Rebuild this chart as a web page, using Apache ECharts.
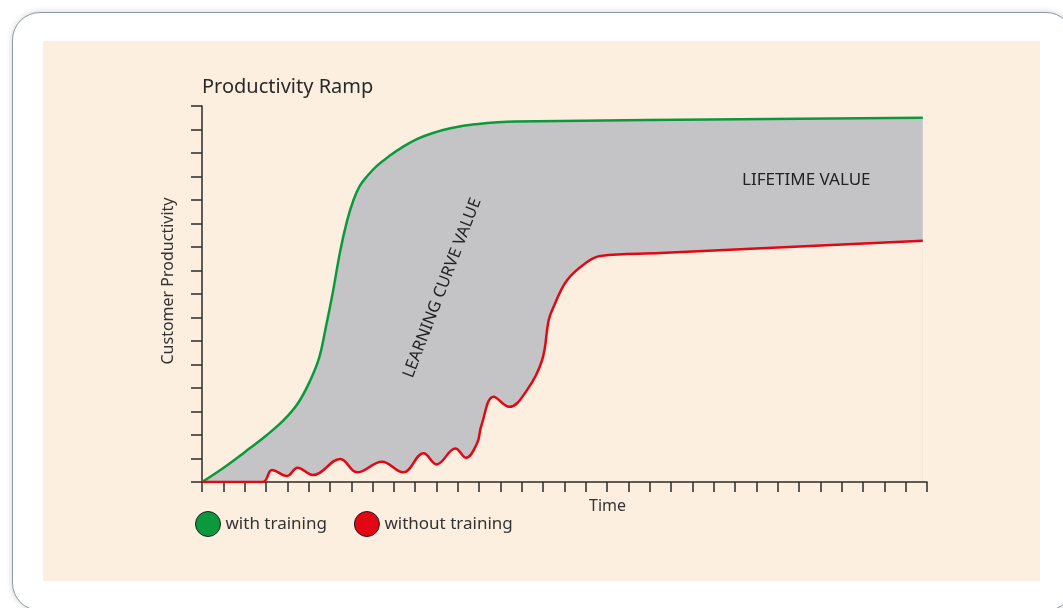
<!DOCTYPE html>
<html>
<head>
<meta charset="utf-8">
<script src="https://cdn.jsdelivr.net/npm/echarts@6/dist/echarts.min.js"></script>
<style>
  html, body { margin: 0; padding: 0; background: #ffffff; overflow: hidden; }
  #frame {
    position: absolute; left: 12px; top: 12px; width: 1060px; height: 597px;
    border: 1.5px solid #8b9aa5; border-radius: 28px; background: #fff;
    box-shadow: 0 0 6px rgba(0,0,0,0.18);
  }
  #panel { position: absolute; left: 43px; top: 41px; width: 997px; height: 540px; background: #fcefdf; }
  #chart { position: absolute; left: 0; top: 0; width: 1063px; height: 608px; }
</style>
</head>
<body>
<div id="frame"></div>
<div id="panel"></div>
<div id="chart"></div>
<script>
// axis extents (tick count only, no labels shown)
const xMax = 34;
const yMax = 16;

// [time, productivity]
const withTraining = [
  [0, 0], [1, 0.6], [2, 1.27], [3, 1.97], [3.83, 2.63], [4.5, 3.35], [5.08, 4.33],
  [5.5, 5.3], [5.78, 6.46], [6.1, 7.9], [6.49, 9.86], [6.8, 11.1], [7.1, 11.99],
  [7.4, 12.6], [7.75, 13.02], [8.2, 13.45], [8.83, 13.9], [9.4, 14.25], [10.1, 14.6],
  [10.8, 14.84], [11.65, 15.05], [12.8, 15.22], [14.7, 15.34], [33.8, 15.5]
];
const withoutTraining = [
  [0, 0], [2.85, 0], [3.28, 0.51], [3.99, 0.26], [4.48, 0.61], [5.2, 0.3],
  [6.49, 0.98], [7.27, 0.41], [8.44, 0.86], [9.43, 0.41], [10.39, 1.22],
  [11.0, 0.75], [11.88, 1.43], [12.38, 1.03], [12.9, 1.65], [13.1, 2.4],
  [13.68, 3.63], [14.41, 3.2], [15.24, 3.91], [15.95, 5.19], [16.26, 6.89],
  [16.49, 7.46], [17.12, 8.59], [18.06, 9.36], [18.68, 9.62], [21.5, 9.74], [33.8, 10.27]
];

const seriesNames = ['with training', 'without training'];
const annotationNames = ['LIFETIME VALUE', 'LEARNING CURVE VALUE'];
const annotationCoords = [[28.34, 12.85], [11.27, 8.26]];

const green = '#0a9a3c';
const red = '#e30613';
const fillGray = '#c4c4c6';
const cream = '#fcefdf';
const font = 'Noto Sans';
const ink = '#333';

var chart = echarts.init(document.getElementById('chart'), null, { renderer: 'canvas' });

var option = {
  animation: false,
  textStyle: { fontFamily: font },
  title: {
    text: 'Productivity Ramp',
    left: 197, top: 72,
    textStyle: { fontSize: 20, fontWeight: 'normal', color: '#2a2a2a', fontFamily: font }
  },
  legend: {
    data: seriesNames,
    icon: 'circle',
    left: 190, top: 506,
    itemWidth: 25, itemHeight: 25, itemGap: 27,
    itemStyle: { borderColor: '#1a1a1a', borderWidth: 1 },
    textStyle: { fontSize: 17, color: ink, fontFamily: font }
  },
  grid: { left: 202, top: 106, right: 136, bottom: 126, show: false },
  xAxis: {
    type: 'value', min: 0, max: xMax, interval: 1, z: 3,
    name: 'Time', nameLocation: 'middle', nameGap: 16,
    nameTextStyle: { fontSize: 16, color: ink, padding: [0, 0, 0, 86] },
    axisLine: { lineStyle: { color: '#2b2b2b', width: 1.5 } },
    axisTick: { show: true, length: 10, lineStyle: { color: '#2b2b2b', width: 1.5 } },
    axisLabel: { show: false },
    splitLine: { show: false }
  },
  yAxis: {
    type: 'value', min: 0, max: yMax, interval: 1, z: 3,
    name: 'Customer Productivity', nameLocation: 'middle', nameGap: 26, nameRotate: 90,
    nameTextStyle: { fontSize: 16, color: ink, padding: [0, 0, 0, 26] },
    axisLine: { show: true, lineStyle: { color: '#2b2b2b', width: 1.5 } },
    axisTick: { show: true, length: 11, lineStyle: { color: '#2b2b2b', width: 1.5 } },
    axisLabel: { show: false },
    splitLine: { show: false }
  },
  series: [
    {
      // gray band: fill under the upper curve...
      name: 'fill-top', type: 'line', data: withTraining, smooth: 0.4,
      symbol: 'none', silent: true, z: 1,
      lineStyle: { width: 0 },
      areaStyle: { color: fillGray, opacity: 1 }
    },
    {
      // ...then paint the background back under the lower curve
      name: 'fill-bottom', type: 'line', data: withoutTraining, smooth: 0.4,
      symbol: 'none', silent: true, z: 2,
      lineStyle: { width: 0 },
      areaStyle: { color: cream, opacity: 1 }
    },
    {
      name: seriesNames[0], type: 'line', data: withTraining, smooth: 0.4,
      symbol: 'none', z: 4, color: green,
      lineStyle: { color: green, width: 2.5 },
      markPoint: {
        symbol: 'circle', symbolSize: 1, silent: true,
        itemStyle: { color: 'rgba(0,0,0,0)' },
        label: { show: true, formatter: '{b}', position: 'inside', color: '#222', fontSize: 17, fontFamily: font },
        data: [
          { name: annotationNames[0], coord: annotationCoords[0] },
          { name: annotationNames[1], coord: annotationCoords[1], label: { rotate: 69, fontSize: 16.5 } }
        ]
      }
    },
    {
      name: seriesNames[1], type: 'line', data: withoutTraining, smooth: 0.4,
      symbol: 'none', z: 4, color: red,
      lineStyle: { color: red, width: 2.5 }
    }
  ]
};

chart.setOption(option);
window.addEventListener('resize', chart.resize);
</script>
</body>
</html>
